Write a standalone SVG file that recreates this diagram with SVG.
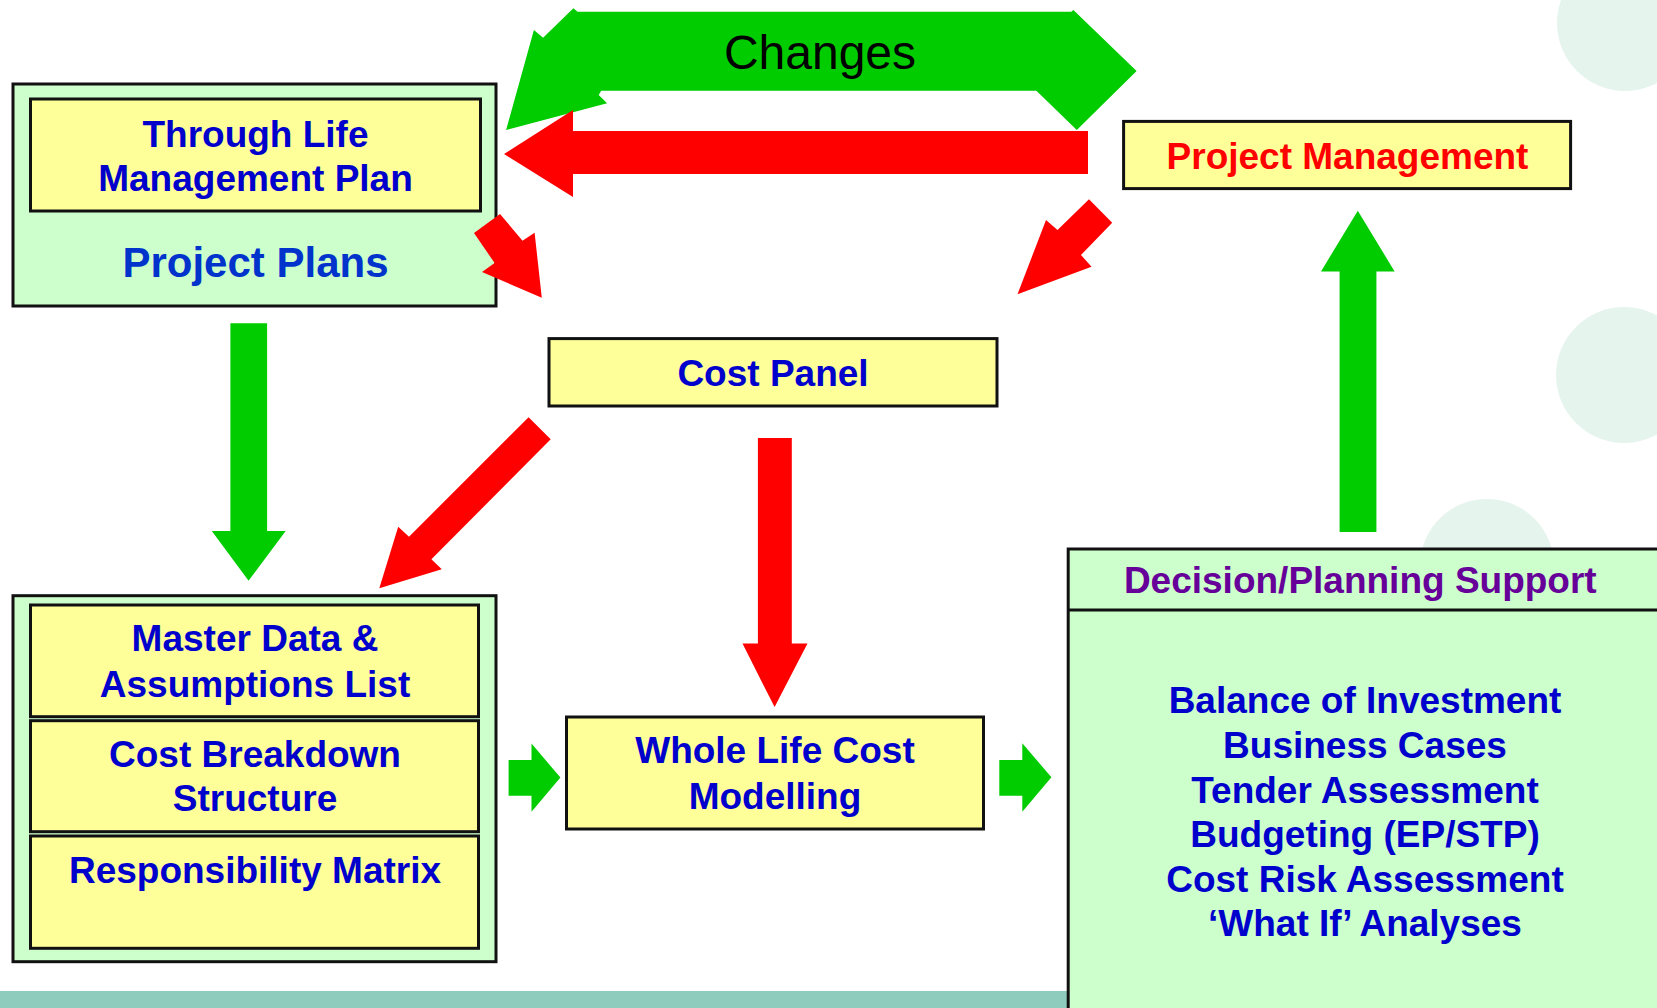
<svg xmlns="http://www.w3.org/2000/svg" width="1657" height="1008" viewBox="0 0 1657 1008">
<style>
.bg{fill:#e6f4ee}
.outer{fill:#ccffcc;stroke:#111;stroke-width:3}
.inner{fill:#ffff99;stroke:#111;stroke-width:3}
.t{font-family:"Liberation Sans",Arial,sans-serif;font-weight:bold;font-size:37px;text-anchor:middle;fill:#0000cc}
.red{fill:#ff0000}
.grn{fill:#00cc00}
</style>
<rect width="1657" height="1008" fill="#ffffff"/>
<g id="background">
<circle class="bg" cx="1625" cy="23" r="68"/>
<circle class="bg" cx="1624" cy="375" r="68"/>
<circle class="bg" cx="1487" cy="566" r="67"/>
<rect x="0" y="991" width="1657" height="17" fill="#8ecdbd"/>
</g>
<g id="project-plans">
<rect class="outer" x="13" y="84" width="483" height="222"/>
<rect class="inner" x="30.5" y="99" width="450" height="112"/>
<text class="t" x="255.5" y="146.7">Through Life</text>
<text class="t" x="255.5" y="191">Management Plan</text>
<text class="t" x="255.5" y="277.3" style="font-size:42px;fill:#0033cc">Project Plans</text>
</g>
<g id="project-management">
<rect class="inner" x="1123.6" y="121.4" width="447" height="67.2"/>
<text class="t" x="1347.5" y="168.6" style="fill:#ff0000">Project Management</text>
</g>
<g id="cost-panel">
<rect class="inner" x="549" y="338.6" width="448" height="67.4"/>
<text class="t" x="773" y="385.7">Cost Panel</text>
</g>
<g id="data-group">
<rect class="outer" x="13" y="595.7" width="483" height="366"/>
<g id="master-data">
<rect class="inner" x="30.5" y="605" width="448" height="111.7"/>
<text class="t" x="255" y="651">Master Data &amp;</text>
<text class="t" x="255" y="696.7">Assumptions List</text>
</g>
<g id="cost-breakdown">
<rect class="inner" x="30.5" y="720.7" width="448" height="111"/>
<text class="t" x="255" y="766.7">Cost Breakdown</text>
<text class="t" x="255" y="811">Structure</text>
</g>
<g id="responsibility-matrix">
<rect class="inner" x="30.5" y="836" width="448" height="112.3"/>
<text class="t" x="255" y="883.3">Responsibility Matrix</text>
</g>
</g>
<g id="whole-life-cost">
<rect class="inner" x="566.5" y="717" width="417" height="112"/>
<text class="t" x="775" y="763.3">Whole Life Cost</text>
<text class="t" x="775" y="809">Modelling</text>
</g>
<g id="decision-support">
<rect class="outer" x="1068.2" y="549" width="620" height="480"/>
<line x1="1068.2" y1="610" x2="1680" y2="610" stroke="#111" stroke-width="3"/>
<text class="t" x="1360.3" y="592.7" style="fill:#660099">Decision/Planning Support</text>
<text class="t" x="1365" y="713.3">Balance of Investment</text>
<text class="t" x="1365" y="757.7">Business Cases</text>
<text class="t" x="1365" y="802.7">Tender Assessment</text>
<text class="t" x="1365" y="846.7">Budgeting (EP/STP)</text>
<text class="t" x="1365" y="891.7">Cost Risk Assessment</text>
<text class="t" x="1365" y="936">‘What If’ Analyses</text>
</g>
<g id="connectors">
<polygon class="grn" points="577.6,11.7 1071.3,11.7 1073.4,10 1136.6,71 1076.8,130 1036.4,90.7 601.2,90.7 598.7,95 607.1,103.3 506.1,130 533.9,30 543.1,37.7 573.4,8.3"/>
<text x="820" y="69" style="font-family:'Liberation Sans',Arial,sans-serif;font-size:48px;text-anchor:middle;fill:#000">Changes</text>
<polygon class="red" points="1088,131 573,131 573,110 504,154 573,197 573,174 1088,174"/>
<polygon class="red" points="500,214 522.5,240.7 534.6,232.7 541.8,297.7 482,272 494.6,263 474,233"/>
<polygon class="red" points="1089,199.3 1112.2,222.7 1081,255 1091.5,266.7 1017.5,294.3 1046,220 1057.5,230"/>
<polygon class="red" points="528.6,417.3 550.7,439.3 431.4,559.3 441.8,569.3 379.3,588.3 398.2,526.7 409,536.7"/>
<polygon class="grn" points="230.4,323.3 267.1,323.3 267.1,531 285.7,531 248.6,580.7 211.8,531 230.4,531"/>
<polygon class="grn" points="1339.6,532 1376.4,532 1376.4,271.4 1394.6,271.4 1357.8,210.7 1321,271.4 1339.6,271.4"/>
<polygon class="red" points="757.9,437.9 791.8,437.9 791.8,643.6 807.5,643.6 774.6,707.1 742.5,643.6 757.9,643.6"/>
<polygon class="grn" points="508.6,760 531.5,760 531.5,743.5 560.4,777.6 531.5,811.8 531.5,795.7 508.6,795.7"/>
<polygon class="grn" points="999.3,760 1022.3,760 1022.3,743.3 1051.4,777.3 1022.3,811.7 1022.3,795.7 999.3,795.7"/>
</g>
</svg>
